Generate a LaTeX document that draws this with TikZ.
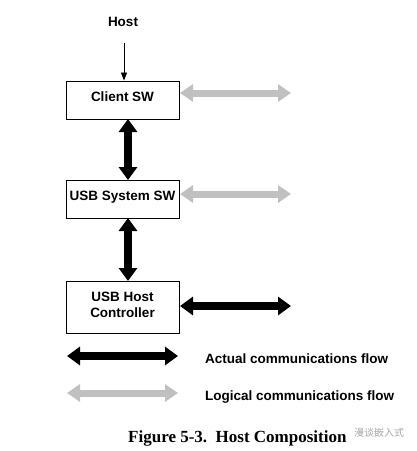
\documentclass[tikz,border=0pt]{standalone}
\usepackage{fontspec}
\setmainfont{Liberation Sans}
\newfontfamily\capfont{Liberation Serif}
\newfontfamily\cjk{Noto Sans CJK SC}
\usetikzlibrary{arrows.meta}
\definecolor{logicgray}{RGB}{192,192,192}
\tikzset{
  box/.style={draw=black, line width=0.9pt, minimum width=113pt, inner sep=0pt, align=center,
              font=\fontsize{13.5}{16}\selectfont\bfseries},
  lbl/.style={inner sep=0pt, font=\fontsize{13.5}{16}\selectfont\bfseries},
  actual/.style={line width=7.5pt, {Triangle[width=18pt,length=13pt]}-{Triangle[width=18pt,length=13pt]}, black},
  logical/.style={line width=7pt, {Triangle[width=17pt,length=13pt]}-{Triangle[width=17pt,length=13pt]}, logicgray},
  thin/.style={line width=0.8pt, -{Triangle[width=6pt,length=8pt]}}
}
\begin{document}
\begin{tikzpicture}[x=1pt,y=-1pt]
\useasboundingbox (0,0) rectangle (417,451);
% host label
\node[lbl] (host) at (123,22) {Host};
\coordinate (hosttop) at (124,43);
% boxes
\node[box, minimum width=113pt, minimum height=38pt] (client) at (122.5,100) {};
\node[lbl] (clientt) at (122.5,97) {Client SW};
\node[box, minimum height=38pt] (sys) at (122.5,199) {};
\node[lbl] (syst) at (122.5,197) {USB System SW};
\node[box, minimum height=52pt] (hc) at (122.5,307) {};
\node[lbl, align=center, font=\fontsize{13.5}{16}\selectfont\bfseries] (hct) at (122.5,305) {USB Host\\Controller};
\draw[thin] (hosttop) -- (client.north -| hosttop);
% vertical actual arrows
\coordinate (v1a) at (128,119);
\coordinate (v1b) at (128,180);
\coordinate (v2a) at (128,218);
\coordinate (v2b) at (128,281);
\draw[actual] (v1a) -- (v1b);
\draw[actual] (v2a) -- (v2b);
% horizontal arrows
\coordinate (c1) at (180,93);
\coordinate (c2) at (291,93);
\draw[logical] (c1) -- (c2);
\coordinate (s1) at (180,194);
\coordinate (s2) at (291,194);
\draw[logical] (s1) -- (s2);
\coordinate (h1) at (180,306);
\coordinate (h2) at (291,306);
\draw[actual] (h1) -- (h2);
% legend
\coordinate (la1) at (67,356);
\coordinate (la2) at (178,356);
\draw[actual] (la1) -- (la2);
\node[lbl, anchor=west] (lat) at (205,359) {Actual communications flow};
\coordinate (ll1) at (67,393);
\coordinate (ll2) at (178,393);
\draw[logical] (ll1) -- (ll2);
\node[lbl, anchor=west] (llt) at (205,397) {Logical communications flow};
% caption
\node[inner sep=0pt, anchor=west] (cap) at (128,438) {\capfont\fontsize{17}{20}\selectfont\bfseries Figure 5-3.\ \ Host Composition};
\node[inner sep=0pt, anchor=west, text=gray!70] (wm) at (354,433) {\cjk\fontsize{10}{11}\selectfont 漫谈嵌入式};
\end{tikzpicture}
\end{document}
